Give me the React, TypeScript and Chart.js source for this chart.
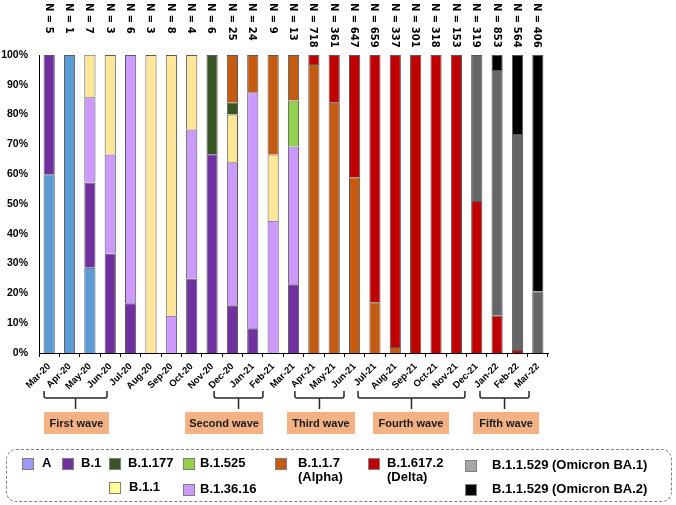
import React, { useEffect, useRef } from "react";
import { Chart, registerables } from "chart.js";

Chart.register(...registerables);

const months = [
  "Mar-20", "Apr-20", "May-20", "Jun-20", "Jul-20", "Aug-20", "Sep-20", "Oct-20", "Nov-20",
  "Dec-20", "Jan-21", "Feb-21", "Mar-21", "Apr-21", "May-21", "Jun-21", "Jul-21", "Aug-21",
  "Sep-21", "Oct-21", "Nov-21", "Dec-21", "Jan-22", "Feb-22", "Mar-22",
];
const nCounts = [5, 1, 7, 3, 6, 3, 8, 4, 6, 25, 24, 9, 13, 718, 361, 647, 659, 337, 301, 318, 153, 319, 853, 564, 406];

const lineageA = [60, 100, 28.6, 0, 0, 0, 0, 0, 0, 0, 0, 0, 0, 0, 0, 0, 0, 0, 0, 0, 0, 0, 0, 0, 0];
const lineageB1 = [40, 0, 28.6, 33.3, 16.7, 0, 0, 25, 66.7, 16, 8.3, 0, 23.1, 0, 0, 0, 0, 0, 0, 0, 0, 0, 0, 0, 0];
const lineageB13616 = [0, 0, 28.6, 33.3, 83.3, 0, 12.5, 50, 0, 48, 79.2, 44.4, 46.2, 0, 0, 0, 0, 0, 0, 0, 0, 0, 0, 0, 0];
const lineageB11 = [0, 0, 14.3, 33.4, 0, 100, 87.5, 25, 0, 16, 0, 22.2, 0, 0, 0, 0, 0, 0, 0, 0, 0, 0, 0, 0, 0];
const lineageB1177 = [0, 0, 0, 0, 0, 0, 0, 0, 33.3, 4, 0, 0, 0, 0, 0, 0, 0, 0, 0, 0, 0, 0, 0, 0, 0];
const lineageB1525 = [0, 0, 0, 0, 0, 0, 0, 0, 0, 0, 0, 0, 15.4, 0, 0, 0, 0, 0, 0, 0, 0, 0, 0, 0, 0];
const lineageAlpha = [0, 0, 0, 0, 0, 0, 0, 0, 0, 16, 12.5, 33.4, 15.3, 97, 84, 59, 17, 2, 0, 0, 0, 0, 0, 0, 0];
const lineageDelta = [0, 0, 0, 0, 0, 0, 0, 0, 0, 0, 0, 0, 0, 3, 16, 41, 83, 98, 100, 100, 100, 51, 12.5, 1, 0];
const lineageBA1 = [0, 0, 0, 0, 0, 0, 0, 0, 0, 0, 0, 0, 0, 0, 0, 0, 0, 0, 0, 0, 0, 49, 82.5, 72.5, 20.6];
const lineageBA2 = [0, 0, 0, 0, 0, 0, 0, 0, 0, 0, 0, 0, 0, 0, 0, 0, 0, 0, 0, 0, 0, 0, 5, 26.5, 79.4];

const yTicks = [0, 10, 20, 30, 40, 50, 60, 70, 80, 90, 100];

const waveLabels = ["First wave", "Second wave", "Third wave", "Fourth wave", "Fifth wave"];
const waveFrom = [-0.25, 8.1, 12.07, 15.17, 21.16];
const waveTo = [2.84, 10.5, 14.48, 20.42, 23.57];
const waveBoxCenter = [1.34, 8.59, 13.35, 17.77, 22.44];
const waveBoxWidth = [65, 78, 68, 76, 66];

const seriesDefs = [
  { label: "A", data: lineageA, color: "#5B9BD5" },
  { label: "B.1", data: lineageB1, color: "#7030A0" },
  { label: "B.1.36.16", data: lineageB13616, color: "#CC99FF" },
  { label: "B.1.1", data: lineageB11, color: "#FFE699" },
  { label: "B.1.177", data: lineageB1177, color: "#375623" },
  { label: "B.1.525", data: lineageB1525, color: "#92D050" },
  { label: "B.1.1.7 (Alpha)", data: lineageAlpha, color: "#C55A11" },
  { label: "B.1.617.2 (Delta)", data: lineageDelta, color: "#C00000" },
  { label: "B.1.1.529 (Omicron BA.1)", data: lineageBA1, color: "#666666" },
  { label: "B.1.1.529 (Omicron BA.2)", data: lineageBA2, color: "#000000" },
];

const legendItems = [
  { lines: ["A"], color: "#9999FF", sx: 22, sy: 458, tx: 42 },
  { lines: ["B.1"], color: "#7030A0", sx: 62, sy: 458, tx: 81 },
  { lines: ["B.1.177"], color: "#375623", sx: 109, sy: 458, tx: 128 },
  { lines: ["B.1.525"], color: "#92D050", sx: 183, sy: 458, tx: 200 },
  { lines: ["B.1.1.7", "(Alpha)"], color: "#C55A11", sx: 275, sy: 458, tx: 298 },
  { lines: ["B.1.617.2", "(Delta)"], color: "#C00000", sx: 368, sy: 458, tx: 387 },
  { lines: ["B.1.1.529 (Omicron BA.1)"], color: "#A6A6A6", sx: 465, sy: 460, tx: 492 },
  { lines: ["B.1.1"], color: "#FFFF99", sx: 109, sy: 482, tx: 129 },
  { lines: ["B.1.36.16"], color: "#CC99FF", sx: 183, sy: 484, tx: 200 },
  { lines: ["B.1.1.529 (Omicron BA.2)"], color: "#000000", sx: 465, sy: 484, tx: 492 },
];

const annotationPlugin = {
  id: "annotations",
  afterDraw(chart: any) {
    const ctx = chart.ctx;
    const xs = chart.scales.x;
    const bottom = chart.chartArea.bottom;
    ctx.save();
    // N labels
    ctx.fillStyle = "#000";
    ctx.font = "bold 10px 'DejaVu Sans'";
    ctx.textAlign = "left";
    ctx.textBaseline = "middle";
    nCounts.forEach((n, i) => {
      const x = xs.getPixelForValue(i);
      ctx.save();
      ctx.translate(x - 1, 3);
      ctx.rotate(Math.PI / 2);
      ctx.fillText(`N = ${n}`, 0, 0);
      ctx.restore();
    });
    // wave brackets
    waveLabels.forEach((lab, k) => {
      const x1 = xs.getPixelForValue(waveFrom[k]);
      const x2 = xs.getPixelForValue(waveTo[k]);
      const yTop = bottom + 38;
      const yH = bottom + 45;
      const yStem = bottom + 56;
      ctx.strokeStyle = "#262626";
      ctx.lineWidth = 1.5;
      ctx.beginPath();
      ctx.moveTo(x1, yTop);
      ctx.lineTo(x1, yH - 2);
      ctx.quadraticCurveTo(x1, yH, x1 + 2, yH);
      ctx.lineTo(x2 - 2, yH);
      ctx.quadraticCurveTo(x2, yH, x2, yH - 2);
      ctx.lineTo(x2, yTop);
      const xm = (x1 + x2) / 2;
      ctx.moveTo(xm, yH);
      ctx.lineTo(xm, yStem);
      ctx.stroke();
      const bc = xs.getPixelForValue(waveBoxCenter[k]);
      const bw = waveBoxWidth[k];
      ctx.fillStyle = "#F4B183";
      ctx.fillRect(bc - bw / 2, bottom + 59, bw, 22);
      ctx.fillStyle = "#1a1a1a";
      ctx.font = "bold 11px 'Liberation Sans'";
      ctx.textAlign = "center";
      ctx.textBaseline = "middle";
      ctx.fillText(lab, bc, bottom + 70.5);
    });
    ctx.restore();
  },
};

export default function App() {
  const canvasRef = useRef<HTMLCanvasElement | null>(null);

  useEffect(() => {
    if (!canvasRef.current) return;
    const chart = new Chart(canvasRef.current, {
      type: "bar",
      data: {
        labels: months,
        datasets: seriesDefs.map((s) => ({
          label: s.label,
          data: s.data,
          backgroundColor: s.color,
          borderColor: "#595959",
          borderWidth: 1,
          barPercentage: 0.55,
          categoryPercentage: 1,
        })),
      },
      options: {
        responsive: false,
        animation: false,
        layout: { padding: { top: 55, right: 128, left: 0, bottom: 0 } },
        plugins: { legend: { display: false }, tooltip: { enabled: false } },
        scales: {
          x: {
            stacked: true,
            afterFit: (scale: any) => {
              scale.height = 152;
            },
            grid: {
              display: true,
              drawOnChartArea: false,
              drawTicks: true,
              tickLength: 4,
              color: "#000",
              offset: true,
            },
            border: { display: true, color: "#000", width: 1 },
            ticks: {
              autoSkip: false,
              maxRotation: 45,
              minRotation: 45,
              padding: 4,
              color: "#000",
              font: { family: "'Liberation Sans'", size: 9.5, weight: "bold" },
            },
          },
          y: {
            stacked: true,
            min: 0,
            max: 100,
            afterFit: (scale: any) => {
              scale.width = 39;
            },
            afterBuildTicks: (scale: any) => {
              scale.ticks = yTicks.map((v) => ({ value: v }));
            },
            grid: { display: false, drawTicks: false },
            border: { display: true, color: "#000", width: 1 },
            ticks: {
              padding: 11,
              color: "#000",
              font: { family: "'Liberation Sans'", size: 10.5, weight: "bold" },
              callback: (v: any) => `${v}%`,
            },
          },
        },
      },
      plugins: [annotationPlugin],
    });
    return () => chart.destroy();
  }, []);

  return (
    <div style={{ position: "fixed", left: 0, top: 0, width: 676, height: 505, background: "#fff" }}>
      <canvas ref={canvasRef} width={676} height={505} style={{ position: "absolute", left: 0, top: 0 }} />
      <div
        style={{
          position: "absolute",
          left: 6,
          top: 449,
          width: 666,
          height: 53,
          border: "1px dashed #7f7f7f",
          borderRadius: 10,
          boxSizing: "border-box",
        }}
      />
      {legendItems.map((it, i) => (
        <React.Fragment key={i}>
          <div
            style={{
              position: "absolute",
              left: it.sx,
              top: it.sy,
              width: 12,
              height: 12,
              background: it.color,
              border: "1px solid #7f7f7f",
              boxSizing: "border-box",
            }}
          />
          <div
            style={{
              position: "absolute",
              left: it.tx,
              top: it.sy - 2,
              font: "bold 13px 'Liberation Sans'",
              lineHeight: "14px",
              color: "#000",
              whiteSpace: "nowrap",
            }}
          >
            {it.lines.map((l, j) => (
              <div key={j}>{l}</div>
            ))}
          </div>
        </React.Fragment>
      ))}
    </div>
  );
}
